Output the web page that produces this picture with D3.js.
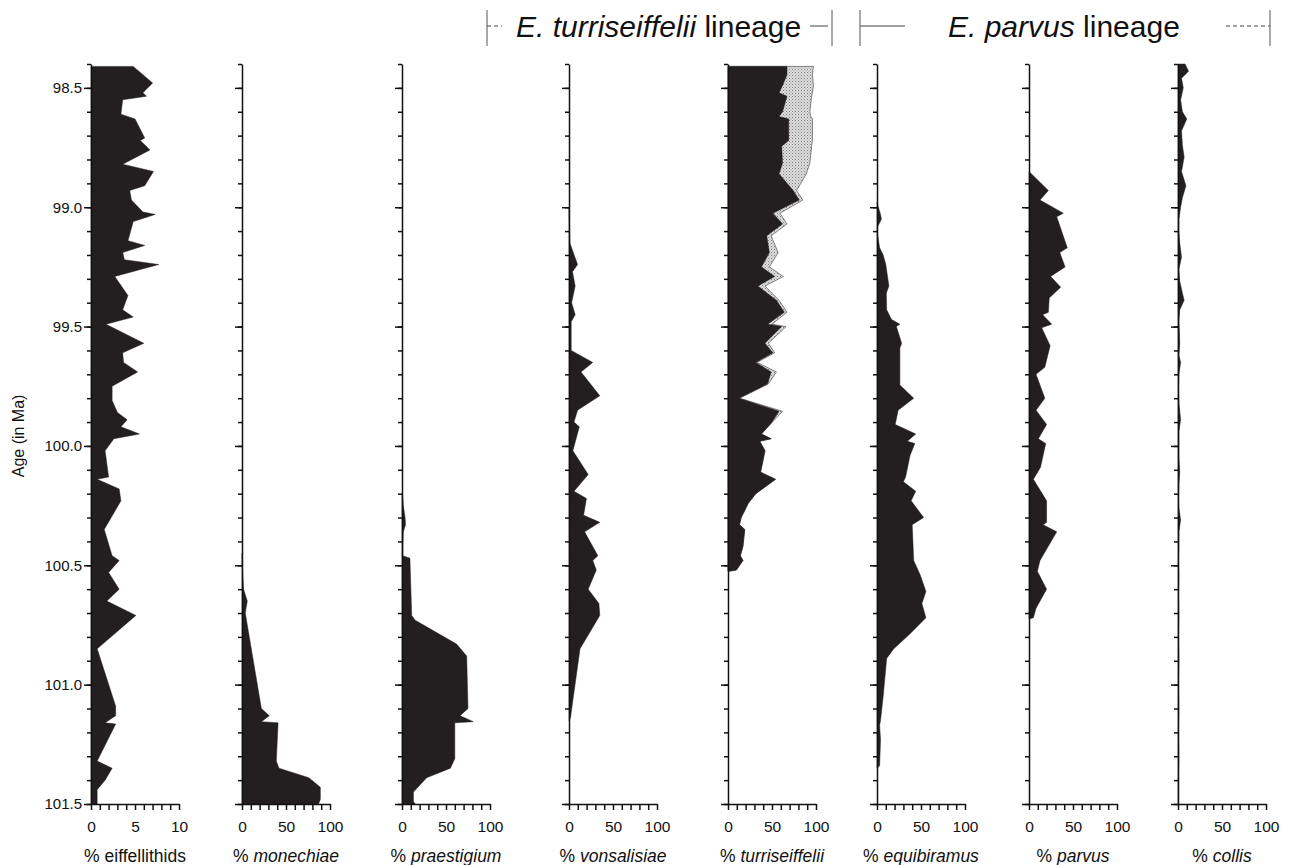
<!DOCTYPE html>
<html>
<head>
<meta charset="utf-8">
<script src="https://cdn.jsdelivr.net/npm/d3@7"></script>
<style>
body { margin: 0; background: #fff; }
text { font-family: "Liberation Sans", Arial, sans-serif; fill: #111; }
.axis path, .axis line { stroke: #111; stroke-width: 1.5; }
</style>
</head>
<body>
<div id="chart"></div>
<script>
// age axis
var ageDomain = [98.4, 101.5];
var ageMinorTicks = d3.range(984, 1016, 1).map(d => d / 10);
var ageMajorTicks = [98.5, 99.0, 99.5, 100.0, 100.5, 101.0, 101.5];

// panels
var panelNames = ["eiffellithids", "monechiae", "praestigium", "vonsalisiae", "turriseiffelii", "equibiramus", "parvus", "collis"];
var panelItalic = [false, true, true, true, true, true, true, true];
var panelMax = [10, 100, 100, 100, 100, 100, 100, 100];

// % eiffellithids
var eiffAge = [98.41, 98.48, 98.52, 98.535, 98.55, 98.61, 98.63, 98.71, 98.72, 98.76, 98.82, 98.85, 98.91, 98.93, 98.97,
  99.02, 99.03, 99.06, 99.14, 99.16, 99.19, 99.22, 99.24, 99.29, 99.37, 99.43, 99.46, 99.49, 99.57, 99.61, 99.65, 99.69,
  99.75, 99.81, 99.86, 99.89, 99.92, 99.95, 99.97, 100.02, 100.13, 100.14, 100.18, 100.23, 100.35, 100.46, 100.48, 100.53,
  100.60, 100.65, 100.71, 100.85, 101.09, 101.13, 101.16, 101.165, 101.32, 101.35, 101.40, 101.44, 101.50];
var eiffPct = [4.8, 7.0, 5.9, 6.3, 3.6, 3.4, 5.0, 6.1, 5.6, 6.7, 3.6, 7.1, 6.1, 4.4, 4.6,
  5.9, 7.3, 4.8, 4.2, 6.1, 3.6, 3.8, 7.7, 2.7, 4.2, 3.6, 4.8, 1.7, 6.0, 3.6, 3.7, 5.3,
  2.4, 2.4, 3.0, 4.1, 3.4, 5.5, 2.6, 1.6, 2.0, 0.7, 3.2, 3.4, 1.5, 2.4, 3.2, 2.0,
  3.2, 1.8, 5.1, 0.7, 2.8, 2.8, 1.6, 2.8, 0.7, 2.4, 1.6, 0.7, 0.7];

// % monechiae
var monAge = [100.45, 100.55, 100.60, 100.65, 100.70, 101.10, 101.13, 101.155, 101.16, 101.32, 101.35, 101.39, 101.43, 101.48, 101.50];
var monPct = [0, 1, 1.8, 6, 3.7, 22, 31, 22, 41, 39, 42, 76, 89, 89, 87];

// % praestigium
var praeAge = [100.20, 100.25, 100.30, 100.33, 100.36, 100.42, 100.46, 100.47, 100.71, 100.73, 100.83, 100.88, 101.10, 101.13,
  101.155, 101.16, 101.31, 101.35, 101.39, 101.45, 101.49, 101.50];
var praePct = [0.5, 1.5, 3.5, 4, 1.5, 1, 1, 9, 11, 15, 62, 73.5, 75, 66, 81, 60, 60, 55, 28, 13, 13, 15];

// % vonsalisiae
var vonAge = [99.00, 99.15, 99.24, 99.27, 99.33, 99.40, 99.45, 99.48, 99.60, 99.65, 99.69, 99.79, 99.85, 99.90, 99.92,
  100.02, 100.12, 100.19, 100.22, 100.29, 100.32, 100.36, 100.46, 100.48, 100.52, 100.60, 100.66, 100.71, 100.85, 101.14, 101.15];
var vonPct = [0, 1, 9.7, 4, 7, 3, 7, 2.5, 2.5, 27, 13.6, 35, 9.7, 5.7, 11.7,
  4.4, 21.8, 5.7, 19.8, 16.6, 35, 17.7, 32.8, 27, 31, 21.8, 34, 35, 12.5, 1.6, 0];

// % turriseiffelii (black) and the stippled remainder of the lineage
var turAge = [98.41, 98.445, 98.49, 98.52, 98.535, 98.60, 98.62, 98.63, 98.72, 98.745, 98.815, 98.86, 98.93, 98.97,
  99.025, 99.07, 99.12, 99.19, 99.25, 99.29, 99.33, 99.39, 99.44, 99.49, 99.50, 99.57, 99.61, 99.65, 99.69, 99.74,
  99.80, 99.855, 99.90, 99.95, 99.97, 99.98, 100.02, 100.11, 100.14, 100.20, 100.24, 100.30, 100.33, 100.35, 100.42,
  100.46, 100.48, 100.52, 100.525];
var turPct = [67, 67, 62, 58, 67, 62, 58, 69, 69, 61, 62, 58, 74, 81,
  51, 62, 44, 47, 38, 53, 34, 55, 64, 45, 61, 42, 51, 31.5, 49, 45,
  12.5, 58, 50, 38, 49, 36, 42, 37, 54, 31.5, 23, 15, 13, 19, 17,
  14, 17, 9.5, 1];
var turOtherPct = [30, 29, 35, 38, 28, 31, 36, 27, 27, 34, 31, 31, 4, 4,
  8, 5, 5, 10, 9, 10, 8, 3, 3, 5, 5, 4, 2, 1.5, 6, 1,
  0.5, 4, 0.5, 0, 0, 0, 0, 0, 0, 0, 0, 0, 0, 0, 0,
  0, 0, 0, 0];

// % equibiramus
var equAge = [98.98, 99.03, 99.05, 99.08, 99.10, 99.17, 99.20, 99.24, 99.33, 99.36, 99.43, 99.47, 99.49, 99.50, 99.57,
  99.59, 99.745, 99.80, 99.85, 99.91, 99.95, 99.98, 99.99, 100.04, 100.13, 100.15, 100.19, 100.23, 100.30, 100.33,
  100.48, 100.54, 100.61, 100.66, 100.72, 100.79, 100.85, 100.89, 101.05, 101.15, 101.17, 101.23, 101.34, 101.35];
var equPct = [0, 4, 5, 1, 0, 3, 7, 10, 13.5, 10.6, 11, 16.5, 26, 22, 28,
  26, 26, 41.7, 24, 20.7, 44, 34.5, 43, 37.5, 32.5, 30, 44, 38.8, 53, 40,
  41.7, 49, 55.6, 51, 55.6, 36.7, 19, 11, 7, 4, 3, 4, 3, 0];

// % parvus
var parAge = [98.85, 98.93, 98.97, 99.025, 99.04, 99.17, 99.19, 99.25, 99.29, 99.335, 99.38, 99.44, 99.45, 99.49, 99.505,
  99.58, 99.67, 99.70, 99.80, 99.85, 99.91, 99.97, 99.99, 100.09, 100.14, 100.23, 100.32, 100.33, 100.36, 100.48,
  100.525, 100.60, 100.68, 100.72, 100.725];
var parPct = [0, 22, 12.5, 39, 31.5, 43.5, 35, 41, 24.6, 36, 23, 22, 15.5, 25.8, 14.4,
  24, 18, 8, 18, 8, 20, 10.6, 19, 13, 5, 20, 20, 16, 31.5, 12.5,
  9.5, 20, 8, 5, 0];

// % collis
var colAge = [98.40, 98.43, 98.46, 98.50, 98.55, 98.60, 98.63, 98.68, 98.74, 98.79, 98.85, 98.91, 98.96, 99.00, 99.05,
  99.10, 99.15, 99.21, 99.26, 99.31, 99.36, 99.39, 99.43, 99.48, 99.52, 99.57, 99.62, 99.65, 99.70, 99.76, 99.82,
  99.89, 99.94, 100.00, 100.05, 100.11, 100.16, 100.22, 100.26, 100.31, 100.36, 100.42, 100.48, 100.55, 100.62, 100.70,
  100.80, 100.90, 101.00, 101.10, 101.20, 101.30, 101.40, 101.50];
var colPct = [8, 12, 4, 6, 3, 5, 10, 4, 5, 7, 4, 9, 5, 3, 1,
  1, 2, 4, 1, 2, 5, 7, 2, 1, 1.5, 2, 1, 3, 1, 0.5, 1,
  3, 1, 1, 1, 2, 1, 0.5, 1, 3, 1, 1, 0.5, 1, 0.5, 1,
  0.5, 1, 0.5, 1, 0.5, 1, 0.5, 0.5];

var panelAges = [eiffAge, monAge, praeAge, vonAge, turAge, equAge, parAge, colAge];
var panelValues = [eiffPct, monPct, praePct, vonPct, turPct, equPct, parPct, colPct];

// layout
var width = 1291, height = 865;
var panelLeft = [91, 242, 402, 569, 728, 877, 1029, 1178];
var panelWidth = 88;
var black = "#231f20";

var svg = d3.select("#chart").append("svg")
  .attr("width", width)
  .attr("height", height);

var defs = svg.append("defs");
var pat = defs.append("pattern")
  .attr("id", "stipple")
  .attr("width", 3).attr("height", 3)
  .attr("patternUnits", "userSpaceOnUse");
pat.append("rect").attr("width", 3).attr("height", 3).attr("fill", "#dcdcdc");
pat.append("rect").attr("x", 0).attr("y", 0).attr("width", 1).attr("height", 1).attr("fill", "#808080");
pat.append("rect").attr("x", 1.5).attr("y", 1.5).attr("width", 1).attr("height", 1).attr("fill", "#a0a0a0");

var y = d3.scaleLinear().domain(ageDomain).range([64, 804]);

panelNames.forEach((name, i) => {
  var g = svg.append("g");
  var max = panelMax[i];
  var x = d3.scaleLinear().domain([0, max]).range([panelLeft[i], panelLeft[i] + panelWidth]);
  var rows = d3.zip(panelAges[i], panelValues[i]);

  var area = d3.area()
    .y(d => y(d[0]))
    .x0(x(0))
    .x1(d => x(d[1]));

  if (name == "turriseiffelii") {
    var totalRows = d3.zip(turAge, turPct.map((v, k) => v + turOtherPct[k]));
    g.append("path")
      .datum(totalRows)
      .attr("d", area)
      .attr("fill", "url(#stipple)")
      .attr("stroke", "#555")
      .attr("stroke-width", 0.7);
  }

  g.append("path")
    .datum(rows)
    .attr("d", area)
    .attr("fill", black)
    .attr("stroke", black)
    .attr("stroke-width", 0.5);

  // age axis
  g.append("g")
    .attr("class", "axis")
    .attr("transform", `translate(${x(0)},0)`)
    .call(d3.axisLeft(y).tickValues(ageMinorTicks).tickSize(4).tickSizeOuter(0).tickFormat(""));
  var major = g.append("g")
    .attr("class", "axis")
    .attr("transform", `translate(${x(0)},0)`)
    .call(d3.axisLeft(y).tickValues(ageMajorTicks).tickSize(7).tickSizeOuter(0)
      .tickPadding(2)
      .tickFormat(i == 0 ? d3.format(".1f") : ""));
  major.selectAll("text").style("font-size", "15px").attr("fill", "#111");
  major.select(".domain").remove();

  // percentage axis
  var xa = g.append("g")
    .attr("class", "axis")
    .attr("transform", `translate(0,${y(ageDomain[1])})`)
    .call(d3.axisBottom(x).tickValues(d3.range(0, 11).map(k => k * max / 10))
      .tickSize(6).tickSizeOuter(0).tickPadding(11)
      .tickFormat(d => (d == 0 || d == max / 2 || d == max) ? d : ""));
  xa.selectAll("text").style("font-size", "15.5px").attr("fill", "#111");

  var title = g.append("text")
    .attr("x", x(max / 2))
    .attr("y", 862)
    .attr("text-anchor", "middle")
    .style("font-size", "17.5px");
  title.append("tspan").text("% ");
  title.append("tspan").style("font-style", panelItalic[i] ? "italic" : "normal").text(name);
});

// y title
svg.append("text")
  .attr("transform", `translate(24,${y(100.0) - 10}) rotate(-90)`)
  .attr("text-anchor", "middle")
  .style("font-size", "16px")
  .text("Age (in Ma)");

// lineage headers
var header = svg.append("g");
var lineY = 26;
function bracket(xp) {
  header.append("line").attr("x1", xp).attr("x2", xp).attr("y1", 10).attr("y2", 46)
    .attr("stroke", "#555").attr("stroke-width", 1);
}
function hline(x1, x2, dashed) {
  header.append("line").attr("x1", x1).attr("x2", x2).attr("y1", lineY).attr("y2", lineY)
    .attr("stroke", "#444").attr("stroke-width", 1)
    .attr("stroke-dasharray", dashed ? "4,3" : null);
}
bracket(487); hline(487, 502, true);
hline(810, 828, false); bracket(832);
bracket(860); hline(860, 905, false);
hline(1226, 1270, true); bracket(1270);

var h1 = header.append("text").attr("x", 516).attr("y", 37).style("font-size", "30px");
h1.append("tspan").style("font-style", "italic").text("E. turriseiffelii");
h1.append("tspan").text(" lineage");
var h2 = header.append("text").attr("x", 948).attr("y", 37).style("font-size", "30px");
h2.append("tspan").style("font-style", "italic").text("E. parvus");
h2.append("tspan").text(" lineage");
</script>
</body>
</html>
